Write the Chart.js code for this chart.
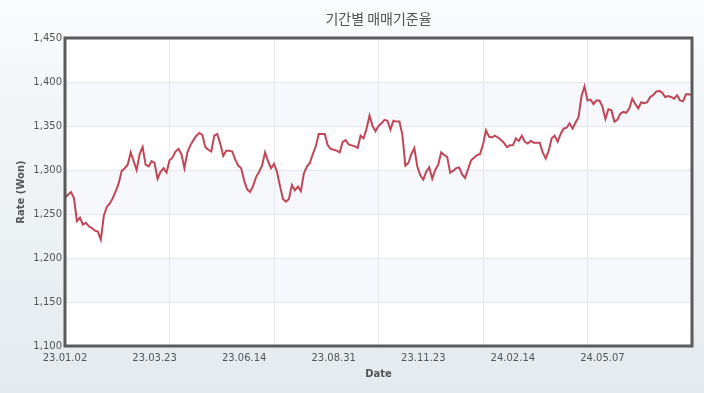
<!DOCTYPE html>
<html>
<head>
<meta charset="utf-8">
<title>기간별 매매기준율</title>
<script src="https://cdn.jsdelivr.net/npm/chart.js@4"></script>
<style>
    html, body { margin: 0; padding: 0; }
    body { width: 704px; height: 393px; overflow: hidden; background: linear-gradient(#f9fbfc, #e4eaee); }
    #wrap { width: 704px; height: 393px; position: relative; }
</style>
</head>
<body>
<div id="wrap"><canvas id="rateChart"></canvas></div>

<script>
// x축 날짜 라벨 (눈금 7개, 균등 간격)
const dateLabels = ['23.01.02', '23.03.23', '23.06.14', '23.08.31', '23.11.23', '24.02.14', '24.05.07'];

// 매매기준율 (원)
const rates = [
    1268, 1272, 1275, 1268, 1242, 1246, 1238, 1240, 1236, 1234,
    1231, 1230, 1221, 1248, 1258, 1262, 1268, 1276, 1285, 1299,
    1302, 1306, 1320, 1310, 1300, 1318, 1326, 1306, 1304, 1310,
    1308, 1290, 1298, 1302, 1297, 1311, 1314, 1321, 1324, 1318,
    1302, 1320, 1328, 1334, 1339, 1342, 1340, 1326, 1323, 1321,
    1339, 1341, 1330, 1316, 1322, 1322, 1321, 1312, 1305, 1302,
    1288, 1278, 1275, 1282, 1292, 1298, 1305, 1320, 1310, 1302,
    1307, 1298, 1282, 1267, 1264, 1267, 1283, 1277, 1281, 1276,
    1296, 1304, 1308, 1318, 1327, 1341, 1341, 1341, 1328, 1324,
    1323, 1322, 1320, 1332, 1334, 1329, 1328, 1327, 1325, 1339,
    1336, 1347, 1362, 1350, 1344, 1350, 1353, 1357, 1356, 1346,
    1356, 1355, 1355, 1340, 1305, 1308, 1318, 1325, 1304, 1294,
    1289, 1298, 1303, 1290, 1300, 1306, 1320, 1317, 1315, 1297,
    1299, 1302, 1303, 1295, 1291, 1301, 1311, 1314, 1317, 1318,
    1329, 1345, 1338, 1337, 1339, 1337, 1334, 1331, 1326, 1328,
    1328, 1336, 1333, 1339, 1332, 1330, 1333, 1331, 1331, 1331,
    1320, 1313, 1322, 1336, 1339, 1332, 1341, 1347, 1348, 1353,
    1347, 1354, 1360, 1384, 1395, 1379, 1380, 1375, 1379, 1379,
    1372, 1358, 1369, 1368, 1355, 1357, 1364, 1366, 1365, 1370,
    1381, 1375, 1370, 1377, 1376, 1377, 1383, 1385, 1389, 1390,
    1388, 1383, 1384, 1383, 1381, 1385, 1379, 1378, 1386, 1386,
    1385
];

// y축 범위
const yMin = 1100;
const yMax = 1450;
const yStep = 50;

const lastIndex = rates.length - 1;
const labelStep = lastIndex / dateLabels.length;   // 라벨 간격
const gridStep = lastIndex / 6;                     // 세로 격자 간격

const textColor = '#555';
const gridColor = '#e3e8ee';
const bandColor = '#f6f8fb';

// 눈금 위치: 라벨 위치 + 격자 위치
const tickValues = [];
for (let v = 0; v <= lastIndex; v += labelStep) tickValues.push(v);
for (let v = 0; v <= lastIndex; v += gridStep) if (!tickValues.includes(v)) tickValues.push(v);
tickValues.sort((a, b) => a - b);

// 플롯 배경과 교차 밴드
const plotBackground = {
    id: 'plotBackground',
    beforeDraw(chart) {
        const { ctx, chartArea: a, scales: { y } } = chart;
        ctx.save();
        ctx.fillStyle = '#ffffff';
        ctx.fillRect(a.left, a.top, a.right - a.left, a.bottom - a.top);
        ctx.fillStyle = bandColor;
        for (let v = yMin + yStep; v < yMax; v += yStep * 2) {
            const top = y.getPixelForValue(v + yStep);
            const bottom = y.getPixelForValue(v);
            ctx.fillRect(a.left, top, a.right - a.left, bottom - top);
        }
        ctx.restore();
    }
};

// 플롯 테두리
const plotBorder = {
    id: 'plotBorder',
    afterDraw(chart) {
        const { ctx, chartArea: a } = chart;
        ctx.save();
        ctx.strokeStyle = '#5a5a5a';
        ctx.lineWidth = 3;
        ctx.strokeRect(a.left, a.top, a.right - a.left, a.bottom - a.top);
        ctx.restore();
    }
};

const tickFont = { family: 'DejaVu Sans', size: 10 };
const axisTitleFont = { family: 'DejaVu Sans', size: 10, weight: 'bold' };

const ctx = document.getElementById('rateChart').getContext('2d');
new Chart(ctx, {
    type: 'line',
    data: {
        datasets: [{
            data: rates.map((v, i) => ({ x: i, y: v })),
            borderColor: '#c14657',
            borderWidth: 2,
            pointRadius: 0,
            tension: 0,
            fill: false
        }]
    },
    options: {
        responsive: true,
        maintainAspectRatio: false,
        animation: false,
        devicePixelRatio: 1,
        layout: { padding: { left: 0, right: 12, top: 0, bottom: 0 } },
        plugins: {
            legend: { display: false },
            tooltip: { enabled: false },
            title: {
                display: true,
                text: '기간별 매매기준율',
                fullSize: false,
                color: textColor,
                font: { family: 'Noto Sans CJK KR', size: 14, weight: 'normal' },
                padding: { top: 10, bottom: 11.2 }
            }
        },
        scales: {
            x: {
                type: 'linear',
                min: 0,
                max: lastIndex,
                afterBuildTicks: s => { s.ticks = tickValues.map(v => ({ value: v })); },
                afterFit: s => { s.height = 47; },
                ticks: {
                    autoSkip: false,
                    maxRotation: 0,
                    padding: 6,
                    color: textColor,
                    font: tickFont,
                    callback: v => {
                        const k = Math.round(v / labelStep);
                        return Math.abs(k * labelStep - v) < 1e-6 ? (dateLabels[k] || '') : '';
                    }
                },
                grid: {
                    drawTicks: false,
                    color: c => {
                        if (!c.tick) return 'rgba(0,0,0,0)';
                        const k = Math.round(c.tick.value / gridStep);
                        return Math.abs(k * gridStep - c.tick.value) < 1e-6 ? gridColor : 'rgba(0,0,0,0)';
                    }
                },
                border: { display: false },
                title: { display: true, text: 'Date', color: textColor, font: axisTitleFont, padding: { top: 0, bottom: 13 } }
            },
            y: {
                min: yMin,
                max: yMax,
                afterFit: s => { s.width = 65; },
                ticks: {
                    stepSize: yStep,
                    padding: 3,
                    color: textColor,
                    font: tickFont,
                    callback: v => v.toLocaleString('en-US')
                },
                grid: { drawTicks: false, color: gridColor },
                border: { display: false },
                title: { display: true, text: 'Rate (Won)', color: textColor, font: axisTitleFont, padding: { top: 15, bottom: 0 } }
            }
        }
    },
    plugins: [plotBackground, plotBorder]
});
</script>
</body>
</html>
